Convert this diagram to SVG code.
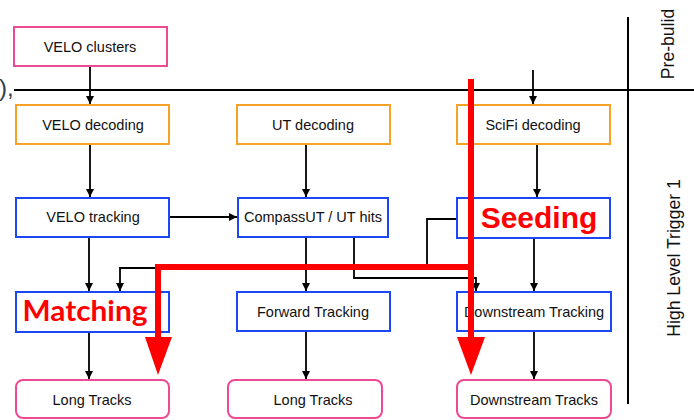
<svg xmlns="http://www.w3.org/2000/svg" width="694" height="420" viewBox="0 0 694 420">
  <defs>
    <marker id="arr" viewBox="0 0 10 10" refX="10" refY="5" markerWidth="8" markerHeight="8" markerUnits="userSpaceOnUse" orient="auto">
      <path d="M0,0 L10,5 L0,10 z" fill="#000"/>
    </marker>
    <style>
      .lbl { font-family: "Liberation Sans", Arial, sans-serif; font-size: 14.5px; fill: #111; text-anchor: middle; dominant-baseline: central; }
      .pink { fill: #fff; stroke: #ee4a93; stroke-width: 2; }
      .orange { fill: #fff; stroke: #f7a127; stroke-width: 2; }
      .blue { fill: #fff; stroke: #1c47f5; stroke-width: 2; }
      .conn { fill: none; stroke: #000; stroke-width: 1.8; }
      .rule { fill: none; stroke: #000; stroke-width: 2; }
      .side { font-family: "Liberation Sans", Arial, sans-serif; font-size: 17.6px; fill: #111; text-anchor: middle; dominant-baseline: central; }
      .hl { font-family: "Liberation Sans", Arial, sans-serif; font-weight: bold; fill: #ff0000; text-anchor: middle; }
      .red { fill: none; stroke: #ff0000; stroke-width: 6; }
    </style>
  </defs>

  <!-- stage dividers -->
  <g id="dividers">
    <line class="rule" x1="14" y1="90" x2="694" y2="90"/>
    <line class="rule" x1="628" y1="17" x2="628" y2="404"/>
    <text x="-1" y="96" style="font-family:'Liberation Sans',Arial,sans-serif;font-size:24px;fill:#2c3e4c">),</text>
    <text class="side" transform="translate(668,44) rotate(-90)">Pre-bulid</text>
    <text class="side" transform="translate(674,258) rotate(-90)">High Level Trigger 1</text>
  </g>

  <!-- connectors -->
  <g id="connectors">
    <line class="conn" x1="90" y1="67" x2="90" y2="104" marker-end="url(#arr)"/>
    <line class="conn" x1="533" y1="70" x2="533" y2="104" marker-end="url(#arr)"/>
    <line class="conn" x1="90" y1="145" x2="90" y2="197" marker-end="url(#arr)"/>
    <line class="conn" x1="306" y1="145" x2="306" y2="197" marker-end="url(#arr)"/>
    <line class="conn" x1="537" y1="145" x2="537" y2="197" marker-end="url(#arr)"/>
    <line class="conn" x1="170" y1="217" x2="237" y2="217" marker-end="url(#arr)"/>
    <line class="conn" x1="89" y1="238" x2="89" y2="291" marker-end="url(#arr)"/>
    <line class="conn" x1="306" y1="238" x2="306" y2="291" marker-end="url(#arr)"/>
    <line class="conn" x1="534" y1="239" x2="534" y2="291" marker-end="url(#arr)"/>
    <path class="conn" d="M457,219 H427 V268 H120 V291" marker-end="url(#arr)"/>
    <path class="conn" d="M354,238 V278 H476 V291" marker-end="url(#arr)"/>
    <line class="conn" x1="89" y1="333" x2="89" y2="379" marker-end="url(#arr)"/>
    <line class="conn" x1="306" y1="332" x2="306" y2="379" marker-end="url(#arr)"/>
    <line class="conn" x1="534" y1="332" x2="534" y2="379" marker-end="url(#arr)"/>
  </g>

  <!-- nodes -->
  <g id="velo-clusters"><rect class="pink" x="14" y="27" width="153" height="39"/><text class="lbl" x="90" y="47">VELO clusters</text></g>
  <g id="velo-decoding"><rect class="orange" x="16" y="105" width="153" height="39"/><text class="lbl" x="93" y="125">VELO decoding</text></g>
  <g id="ut-decoding"><rect class="orange" x="237" y="105" width="153" height="39"/><text class="lbl" x="313" y="125">UT decoding</text></g>
  <g id="scifi-decoding"><rect class="orange" x="457" y="105" width="153" height="39"/><text class="lbl" x="533" y="125">SciFi decoding</text></g>
  <g id="velo-tracking"><rect class="blue" x="16" y="198" width="153" height="39"/><text class="lbl" x="93" y="217">VELO tracking</text></g>
  <g id="compass-ut"><rect class="blue" x="238" y="198" width="150" height="39"/><text class="lbl" x="313" y="217">CompassUT / UT hits</text></g>
  <g id="seeding"><rect class="blue" x="457" y="198" width="153" height="40"/><text class="hl" x="539" y="228" font-size="30">Seeding</text></g>
  <g id="matching"><rect class="blue" x="16" y="292" width="153" height="40"/><text class="hl" x="85" y="321" font-size="28" textLength="125" lengthAdjust="spacingAndGlyphs" style="font-family:Lato,'Open Sans',sans-serif">Matching</text></g>
  <g id="forward-tracking"><rect class="blue" x="237" y="292" width="153" height="39"/><text class="lbl" x="313" y="312">Forward Tracking</text></g>
  <g id="downstream-tracking"><rect class="blue" x="457" y="292" width="154" height="39"/><text class="lbl" x="534" y="312">Downstream Tracking</text></g>
  <g id="long-tracks-1"><rect class="pink" x="16" y="380" width="153" height="38" rx="7"/><text class="lbl" x="92" y="400">Long Tracks</text></g>
  <g id="long-tracks-2"><rect class="pink" x="228" y="380" width="154" height="38" rx="7"/><text class="lbl" x="313" y="400">Long Tracks</text></g>
  <g id="downstream-tracks"><rect class="pink" x="457" y="380" width="154" height="38" rx="7"/><text class="lbl" x="534" y="400">Downstream Tracks</text></g>

  <!-- highlighted flow -->
  <g id="highlight">
    <path class="red" d="M471,79 V340"/>
    <path class="red" d="M471,267 H158 V340"/>
    <path d="M457,337 L485,337 L471,375 z" fill="#ff0000"/>
    <path d="M145,337 L172,337 L158,375 z" fill="#ff0000"/>
  </g>
</svg>
